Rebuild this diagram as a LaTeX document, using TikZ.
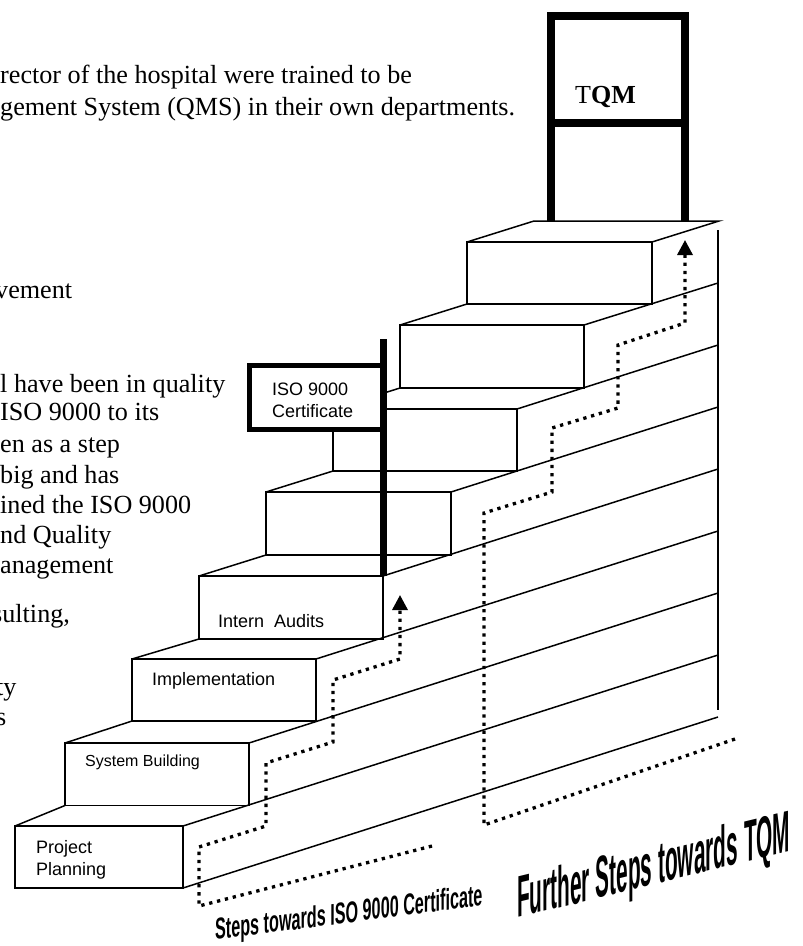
\documentclass[tikz,border=0pt]{standalone}
\usepackage{fontspec}
\setmainfont{Liberation Serif}
\newfontfamily\labelfont{Liberation Sans}
\usetikzlibrary{arrows.meta}
\begin{document}
\begin{tikzpicture}[x=1pt,y=-1pt,
  stepface/.style={draw, line width=1.5pt, inner sep=0pt, outer sep=0pt, anchor=north west},
  edge/.style={line width=1.5pt},
  trail/.style={line width=3.3pt, dash pattern=on 3.3pt off 4.8pt},
  trailarrow/.style={trail, -{Triangle[width=15pt,length=15pt]}},
  bodytext/.style={anchor=base west, inner sep=0pt, font=\fontsize{26.15}{30}\selectfont},
  steplabel/.style={anchor=base west, inner sep=0pt, font=\labelfont\fontsize{18}{22}\selectfont},
  signbox/.style={draw, fill=white, line width=5pt, inner sep=0pt, outer sep=0pt, anchor=north west},
  pole/.style={line width=7pt},
  frame/.style={line width=7.5pt, line join=miter},
  wordart/.style={transform shape, anchor=base west, inner sep=0pt, font=\labelfont\bfseries},
]
\useasboundingbox (0,0) rectangle (803,946);

% running text of the page, cut off at the left margin
\node[bodytext] (t1)  at (0,83)   {rector of the hospital were trained to be};
\node[bodytext] (t2)  at (0,115)  {gement System (QMS) in their own departments.};
\node[bodytext] (t3)  at (-5,298) {vement};
\node[bodytext] (t4)  at (0,392)  {l have been in quality};
\node[bodytext] (t5)  at (0,420)  {ISO 9000 to its};
\node[bodytext] (t6)  at (0,452)  {en as a step};
\node[bodytext] (t7)  at (0,483)  {big and has};
\node[bodytext] (t8)  at (0,513)  {ined the ISO 9000};
\node[bodytext] (t9)  at (0,543)  {nd Quality};
\node[bodytext] (t10) at (0,573)  {anagement};
\node[bodytext] (t11) at (-8,622) {sulting,};
\node[bodytext] (t12) at (-4,695) {ty};
\node[bodytext] (t13) at (-4,725) {s};

% front faces of the eight steps
\node[stepface, minimum width=168pt, minimum height=62pt]   (s1) at (15,826)  {};
\node[stepface, minimum width=184pt, minimum height=62.5pt] (s2) at (65,743)  {};
\node[stepface, minimum width=184pt, minimum height=62pt]   (s3) at (132,659) {};
\node[stepface, minimum width=184pt, minimum height=63pt]   (s4) at (199,576) {};
\node[stepface, minimum width=185pt, minimum height=63pt]   (s5) at (266,492) {};
\node[stepface, minimum width=184pt, minimum height=62pt]   (s6) at (333,409) {};
\node[stepface, minimum width=184pt, minimum height=63pt]   (s7) at (400,325) {};
\node[stepface, minimum width=185pt, minimum height=62pt]   (s8) at (467,242) {};

% far ends of the treads on the right wall
\coordinate (w0) at (718,717);
\coordinate (w1) at (718,655);
\coordinate (w2) at (718,593);
\coordinate (w3) at (718,531);
\coordinate (w4) at (718,469);
\coordinate (w5) at (718,407);
\coordinate (w6) at (718,345);
\coordinate (w7) at (718,283);
\coordinate (w8) at (719,221);
\coordinate (topback) at (534,221);
\coordinate (walltop) at (718,230);
\coordinate (wallbot) at (718,710);

% left depth edges of the treads
\draw[edge] (s1.north west) -- (s2.south west);
\draw[edge] (s2.north west) -- (s3.south west);
\draw[edge] (s3.north west) -- (s4.south west);
\draw[edge] (s4.north west) -- (s5.south west);
\draw[edge] (s5.north west) -- (s6.south west);
\draw[edge] (s6.north west) -- (s7.south west);
\draw[edge] (s7.north west) -- (s8.south west);
\draw[edge] (s8.north west) -- (topback) -- (w8) -- (s8.north east);

% long edges running back to the wall
\draw[edge] (s1.south east) -- (w0);
\draw[edge] (s1.north east) -- (w1);
\draw[edge] (s2.north east) -- (w2);
\draw[edge] (s3.north east) -- (w3);
\draw[edge] (s4.north east) -- (w4);
\draw[edge] (s5.north east) -- (w5);
\draw[edge] (s6.north east) -- (w6);
\draw[edge] (s7.north east) -- (w7);
\draw[edge] (walltop) -- (wallbot);

% step labels
\node[steplabel] (pp1) at (36,853) {Project};
\node[steplabel] (pp2) at (36,875) {Planning};
\node[steplabel, font=\labelfont\fontsize{16}{20}\selectfont] (sb) at (85,766) {System Building};
\node[steplabel] (im) at (152,685) {Implementation};
\node[steplabel] (ia) at (218,627) {Intern~ Audits};

% dotted route to the ISO 9000 certificate
\coordinate (a0) at (432,846);
\coordinate (a1) at (199,906);
\coordinate (a2) at (199,847);
\coordinate (a3) at (266,826);
\coordinate (a4) at (266,763);
\coordinate (a5) at (333,742);
\coordinate (a6) at (333,680);
\coordinate (a7) at (400,659);
\coordinate (a8) at (400,595);
\draw[trailarrow] (a0) -- (a1) -- (a2) -- (a3) -- (a4) -- (a5) -- (a6) -- (a7) -- (a8);

% dotted route on towards TQM
\coordinate (b0) at (735,739);
\coordinate (b1) at (484,825);
\coordinate (b2) at (484,513);
\coordinate (b3) at (552,492);
\coordinate (b4) at (552,428);
\coordinate (b5) at (618,408);
\coordinate (b6) at (618,345);
\coordinate (b7) at (685,323);
\coordinate (b8) at (685,240);
\draw[trailarrow] (b0) -- (b1) -- (b2) -- (b3) -- (b4) -- (b5) -- (b6) -- (b7) -- (b8);

% ISO 9000 sign on its post
\node[signbox, minimum width=134pt, minimum height=64pt] (iso) at (249.5,365.5) {};
\coordinate (poletop) at (383.5,339);
\coordinate (polefoot) at (383.5,575.5);
\draw[pole] (poletop) -- (polefoot);
\node[steplabel] (iso1) at (272,395) {ISO 9000};
\node[steplabel] (iso2) at (272,417) {Certificate};

% TQM frame standing on the top step
\coordinate (fl) at (551,221);
\coordinate (fr) at (685,221);
\coordinate (ftl) at (551,15.75);
\coordinate (ftr) at (685,15.75);
\coordinate (fml) at (551,123);
\coordinate (fmr) at (685,123);
\draw[frame] (fl) -- (ftl) -- (ftr) -- (fr);
\draw[frame] (fml) -- (fmr);
\node[anchor=base west, inner sep=0pt, font=\fontsize{26}{30}\selectfont] (tqm) at (575,103) {T\textbf{QM}};

% slanted captions under the stairs
\begin{scope}[shift={(215,940)}]
  \node[wordart, yslant=0.13, xscale=0.54, font=\labelfont\bfseries\fontsize{30}{30}\selectfont] (cap1) at (0,0) {Steps towards ISO 9000 Certificate};
\end{scope}
\begin{scope}[shift={(517,918)}]
  \node[wordart, yslant=0.244, xscale=0.355, font=\labelfont\bfseries\fontsize{58.7}{60}\selectfont] (cap2) at (0,0) {Further Steps towards TQM};
\end{scope}
\end{tikzpicture}
\end{document}
